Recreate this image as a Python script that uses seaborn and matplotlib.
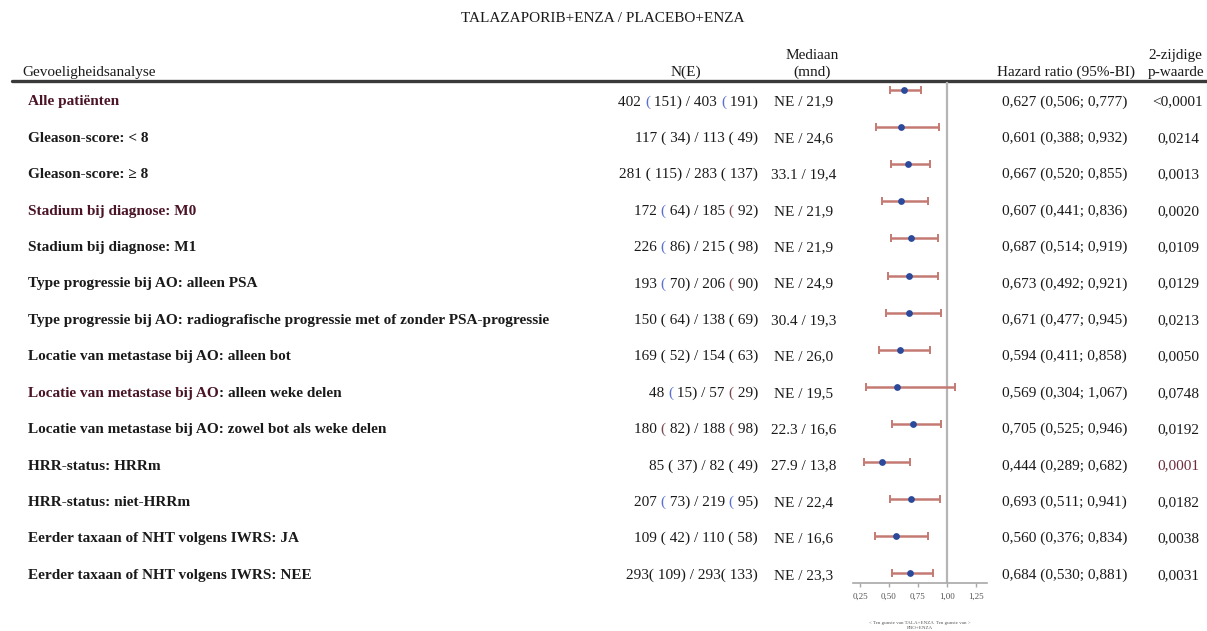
import matplotlib
matplotlib.use("Agg")
import matplotlib.pyplot as plt
from matplotlib.lines import Line2D
import numpy as np
import pandas as pd
import seaborn as sns

# ---- data -------------------------------------------------------------
subgroups = [
    "Alle patiënten",
    "Gleason-score: < 8",
    "Gleason-score: ≥ 8",
    "Stadium bij diagnose: M0",
    "Stadium bij diagnose: M1",
    "Type progressie bij AO: alleen PSA",
    "Type progressie bij AO: radiografische progressie met of zonder PSA-progressie",
    "Locatie van metastase bij AO: alleen bot",
    "Locatie van metastase bij AO: alleen weke delen",
    "Locatie van metastase bij AO: zowel bot als weke delen",
    "HRR-status: HRRm",
    "HRR-status: niet-HRRm",
    "Eerder taxaan of NHT volgens IWRS: JA",
    "Eerder taxaan of NHT volgens IWRS: NEE",
]
n_events = [
    "402 ( 151) / 403 ( 191)",
    "117 ( 34) / 113 ( 49)",
    "281 ( 115) / 283 ( 137)",
    "172 ( 64) / 185 ( 92)",
    "226 ( 86) / 215 ( 98)",
    "193 ( 70) / 206 ( 90)",
    "150 ( 64) / 138 ( 69)",
    "169 ( 52) / 154 ( 63)",
    "48 ( 15) / 57 ( 29)",
    "180 ( 82) / 188 ( 98)",
    "85 ( 37) / 82 ( 49)",
    "207 ( 73) / 219 ( 95)",
    "109 ( 42) / 110 ( 58)",
    "293( 109) / 293( 133)",
]
median_months = [
    "NE / 21,9", "NE / 24,6", "33.1 / 19,4", "NE / 21,9", "NE / 21,9",
    "NE / 24,9", "30.4 / 19,3", "NE / 26,0", "NE / 19,5", "22.3 / 16,6",
    "27.9 / 13,8", "NE / 22,4", "NE / 16,6", "NE / 23,3",
]
hr = [0.627, 0.601, 0.667, 0.607, 0.687, 0.673, 0.671,
      0.594, 0.569, 0.705, 0.444, 0.693, 0.560, 0.684]
ci_low = [0.506, 0.388, 0.520, 0.441, 0.514, 0.492, 0.477,
          0.411, 0.304, 0.525, 0.289, 0.511, 0.376, 0.530]
ci_high = [0.777, 0.932, 0.855, 0.836, 0.919, 0.921, 0.945,
           0.858, 1.067, 0.946, 0.682, 0.941, 0.834, 0.881]
p_values = ["<0,0001", "0,0214", "0,0013", "0,0020", "0,0109", "0,0129",
            "0,0213", "0,0050", "0,0748", "0,0192", "0,0001", "0,0182",
            "0,0038", "0,0031"]
x_ticks = [0.25, 0.50, 0.75, 1.00, 1.25]
x_tick_labels = ["0,25", "0,50", "0,75", "1,00", "1,25"]

# ---- styling ----------------------------------------------------------
sns.set_theme(style="white")
plt.rcParams["font.family"] = ["Liberation Serif", "DejaVu Serif"]

W, H = 1207, 631
fig = plt.figure(figsize=(W / 100, H / 100), dpi=100)
fig.patch.set_facecolor("white")

# full-figure canvas in pixel coordinates (y grows downward) for the table text
canvas = fig.add_axes([0, 0, 1, 1])
canvas.set_xlim(0, W)
canvas.set_ylim(H, 0)
canvas.axis("off")

MAROON = "#4b1426"
TXT = "#1a1a1a"
BLUE = "#5a6fd0"
BROWN = "#7a4a50"
CI_COL = "#c47a72"
DOT_COL = "#2c4a9c"
FS = 11

# highlight colours of the opening brackets in the N(E) column (row -> colours)
paren_colors = {
    0: (BLUE, BLUE),
    3: (BLUE, BROWN),
    4: (BLUE, TXT),
    5: (BLUE, BROWN),
    8: (BLUE, BROWN),
    9: (BROWN, BROWN),
    11: (BLUE, BLUE),
}


def put(px, py, s, ha="left", va="baseline", size=FS, weight="normal", color=TXT):
    return canvas.text(px, py, s, ha=ha, va=va, fontsize=size,
                       fontweight=weight, color=color)


def put_events(px, py, s, colors):
    """Right-aligned N(E) text with individually coloured '(' signs."""
    parts = []
    chunks = s.split("(")
    for k, chunk in enumerate(chunks):
        if k > 0:
            parts.append(("(", colors[k - 1]))
        if chunk:
            parts.append((chunk, TXT))
    # lay out from the right edge towards the left
    prev = None
    for text, col in reversed(parts):
        if prev is None:
            prev = put(px, py, text, ha="right", color=col)
        else:
            prev = canvas.annotate(text, xy=(0, 0), xycoords=prev, ha="right",
                                   va="bottom", fontsize=FS, color=col,
                                   annotation_clip=False)


# ---- title and column headers -----------------------------------------
put(603, 22, "TALAZAPORIB+ENZA / PLACEBO+ENZA", ha="center")
put(22, 76, "Gevoeligheidsanalyse")
put(686, 76, "N(E)", ha="center")
put(812, 59, "Mediaan", ha="center")
put(812, 76, "(mnd)", ha="center")
put(1066, 76, "Hazard ratio (95%-BI)", ha="center")
put(1148, 59, "2-zijdige")
put(1148, 76, "p-waarde")
canvas.add_line(Line2D([12, 1207], [81, 81], color="#3a3a3a", lw=2.4))

# ---- table rows --------------------------------------------------------
row_top, row_step = 105.5, 36.4
maroon_rows = {0, 3}
for i, label in enumerate(subgroups):
    y = row_top + i * row_step
    if i == 8:
        head, tail = label.split(":", 1)
        t = put(28, y, head, weight="bold", color=MAROON)
        canvas.annotate(":" + tail, xy=(1, 0), xycoords=t, va="bottom",
                        ha="left", fontsize=FS, fontweight="bold", color=TXT,
                        annotation_clip=False)
    else:
        put(28, y, label, weight="bold",
            color=MAROON if i in maroon_rows else TXT)
    if i in paren_colors:
        put_events(758, y, n_events[i], paren_colors[i])
    else:
        put(758, y, n_events[i], ha="right")
    put(804, y, median_months[i], ha="center")
    put(1002, y, f"{hr[i]:.3f} ({ci_low[i]:.3f}; {ci_high[i]:.3f})".replace(".", ","))
    put(1178, y, p_values[i], ha="center", color="#6b2c3c" if i == 10 else TXT)

# ---- forest plot -------------------------------------------------------
x_left, x_right = 853, 987
y_top, y_axis = 82, 583
ax = fig.add_axes([x_left / W, 1 - y_axis / H, (x_right - x_left) / W, (y_axis - y_top) / H])
ax.set_xlim(0.19, 1.345)
ax.set_ylim(y_axis, y_top)

dot_top, dot_step = 89.5, 37.2
df = pd.DataFrame({
    "subgroup": subgroups,
    "hr": hr,
    "lo": ci_low,
    "hi": ci_high,
})
df["ypos"] = dot_top + np.arange(len(df)) * dot_step

ax.axvline(1.0, color="#b5b5b5", lw=1.6, zorder=1)
ax.errorbar(df["hr"], df["ypos"], xerr=[df["hr"] - df["lo"], df["hi"] - df["hr"]],
            fmt="none", ecolor=CI_COL, elinewidth=1.8, capsize=3.2, capthick=1.4,
            zorder=2)
sns.scatterplot(data=df, x="hr", y="ypos", ax=ax, color=DOT_COL, s=24,
                edgecolor=DOT_COL, linewidth=0, zorder=3, legend=False)

for side in ("top", "left", "right"):
    ax.spines[side].set_visible(False)
ax.spines["bottom"].set_color("#a8a8a8")
ax.spines["bottom"].set_linewidth(1.2)
ax.set_xticks(x_ticks)
ax.set_xticklabels(x_tick_labels)
ax.set_yticks([])
ax.tick_params(axis="x", colors="#a8a8a8", labelcolor="#555555", labelsize=6.5,
               length=3, width=1, pad=4, bottom=True)
ax.set_xlabel("")
ax.set_ylabel("")
ax.patch.set_alpha(0)

put(920, 623, "< Ten gunste van TALA+ENZA  Ten gunste van >", ha="center",
    va="center", size=3.6, color="#555555")
put(920, 628, "PBO+ENZA", ha="center", va="center", size=3.6, color="#555555")

fig.savefig("out.png", dpi=100, facecolor="white")
